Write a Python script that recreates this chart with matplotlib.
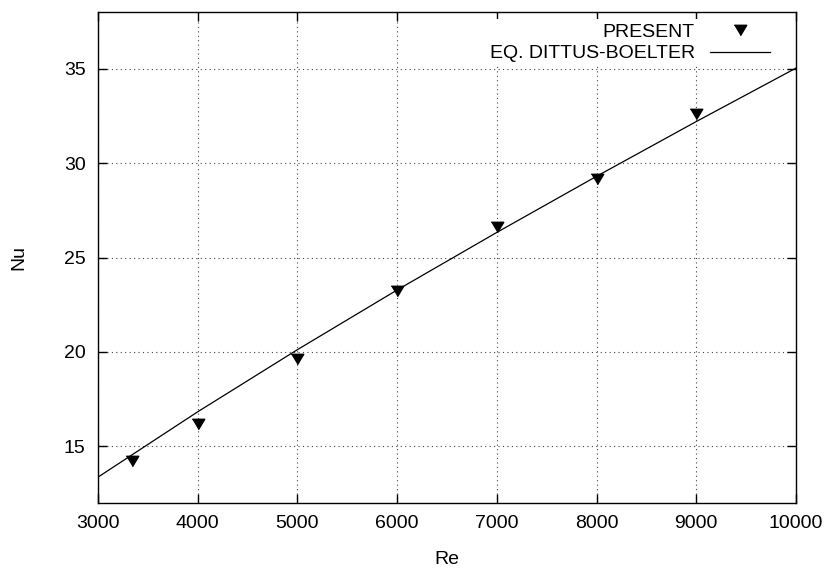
import matplotlib
matplotlib.use('Agg')
import matplotlib.pyplot as plt

plt.rcParams['font.family'] = ['Liberation Sans', 'DejaVu Sans']

# Resultados numéricos (Nu frente a Re)
re_present = [3340, 4000, 5000, 6000, 7000, 8000, 9000]
nu_present = [14.2, 16.2, 19.6, 23.25, 26.6, 29.15, 32.6]

# Correlación de Dittus-Boelter
re_db = [3000, 4000, 5000, 6000, 7000, 8000, 9000, 10000]
nu_db = [13.37, 16.83, 20.12, 23.28, 26.33, 29.30, 32.20, 35.03]

x_ticks = [3000, 4000, 5000, 6000, 7000, 8000, 9000, 10000]
y_ticks = [15, 20, 25, 30, 35]

fig = plt.figure(figsize=(8.32, 5.72), dpi=100)
ax = fig.add_axes([98 / 832, 1 - 503 / 572, 698 / 832, 491 / 572])

tri = [(-0.6, 0.5), (0.6, 0.5), (0.0, -0.5)]
ax.plot(re_present, nu_present, linestyle='none', marker=tri, ms=9,
        color='black', label='PRESENT', zorder=3)
ax.plot(re_db, nu_db, color='black', lw=0.9, label='EQ. DITTUS-BOELTER', zorder=3)

ax.set_xlim(3000, 10000)
ax.set_ylim(12, 38)
ax.set_xticks(x_ticks)
ax.set_yticks(y_ticks)
ax.tick_params(direction='in', length=6.5, width=1.0, top=True, right=True,
               labelsize=14, pad=9)
for sp in ax.spines.values():
    sp.set_linewidth(1.0)
ax.grid(True, linestyle=(0, (1, 3)), color='#444444', lw=0.8)

ax.set_xlabel('Re', fontsize=14, labelpad=13)
ax.set_ylabel('Nu', fontsize=14, labelpad=26)

# leyenda sin marco, con fondo blanco que tapa la rejilla
leg = ax.legend(loc='upper right', bbox_to_anchor=(0.969, 0.985), markerfirst=False,
                fontsize=14, handlelength=3.1, handletextpad=0.8,
                labelspacing=0.2, borderpad=0.2, borderaxespad=0.0,
                frameon=True, fancybox=False, edgecolor='none',
                facecolor='white', framealpha=1.0)

fig.savefig('out.png', dpi=100)
